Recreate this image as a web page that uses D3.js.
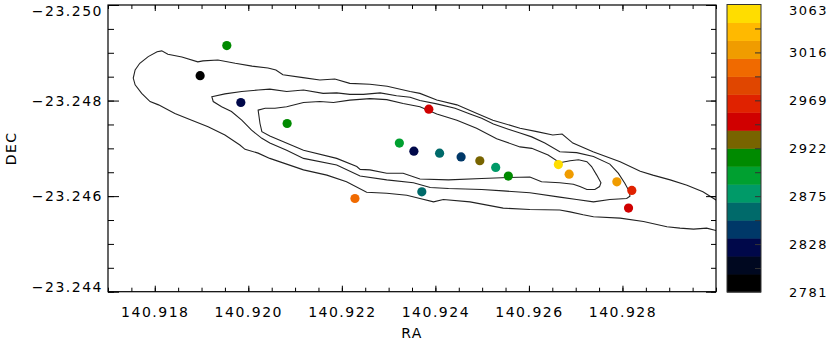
<!DOCTYPE html>
<html>
<head>
<meta charset="utf-8">
<script src="https://cdn.jsdelivr.net/npm/d3@7"></script>
<style>
    body { margin: 0; background: #fff; }
    text { font-family: "DejaVu Sans", sans-serif; fill: #000; letter-spacing: 1.5px; }
</style>
</head>
<body>
<svg id="chart" width="830" height="341"></svg>
<script>
// measured positions (RA / DEC, degrees) and velocities of the knots
const pointRA  = [140.91954, 140.91897, 140.91984, 140.92083, 140.92386, 140.92323, 140.92354,
                  140.92409, 140.92455, 140.92495, 140.92529, 140.92556, 140.92371, 140.92228,
                  140.92663, 140.92686, 140.92788, 140.92820, 140.92813];
const pointDEC = [-23.24915, -23.24852, -23.24796, -23.24752, -23.24782, -23.24711, -23.24694,
                  -23.24690, -23.24682, -23.24674, -23.24660, -23.24642, -23.24609, -23.24595,
                  -23.24666, -23.24646, -23.24630, -23.24612, -23.24575];
const pointVel = [2913, 2790, 2825, 2913, 2948, 2896, 2825, 2860, 2843, 2931, 2878, 2913, 2860, 3001,
                  3054, 3019, 3019, 2966, 2948];

// 16 discrete colour levels, bottom (low velocity) to top
const velColors = ["#000000", "#000820", "#00084a", "#003868", "#006a6a", "#009a68", "#00a030", "#008a00",
                   "#786400", "#d00000", "#e02200", "#e04600", "#f06a00", "#f09c00", "#ffb900", "#ffdd00"];
const velLabels = [2781, 2828, 2875, 2922, 2969, 3016, 3063];

const raLabels  = [140.918, 140.920, 140.922, 140.924, 140.926, 140.928];
const decLabels = [-23.250, -23.248, -23.246, -23.244];

// contour levels of the continuum image, [RA, DEC]
const contourOuter = [
    [140.93013, -23.24584], [140.93000, -23.24592], [140.92972, -23.24609], [140.92938, -23.24623],
    [140.92902, -23.24634], [140.92865, -23.24644], [140.92838, -23.24652], [140.92795, -23.24672],
    [140.92737, -23.24693], [140.92694, -23.24711], [140.92671, -23.24730], [140.92651, -23.24728],
    [140.92617, -23.24735], [140.92581, -23.24742], [140.92523, -23.24759], [140.92489, -23.24773],
    [140.92446, -23.24791], [140.92403, -23.24801], [140.92367, -23.24815], [140.92346, -23.24819],
    [140.92297, -23.24830], [140.92260, -23.24834], [140.92217, -23.24836], [140.92185, -23.24845],
    [140.92153, -23.24843], [140.92117, -23.24848], [140.92074, -23.24854], [140.92059, -23.24864],
    [140.92042, -23.24868], [140.92008, -23.24872], [140.91972, -23.24878], [140.91935, -23.24885],
    [140.91903, -23.24883], [140.91892, -23.24881], [140.91858, -23.24891], [140.91828, -23.24897],
    [140.91815, -23.24904], [140.91805, -23.24902], [140.91786, -23.24892], [140.91768, -23.24878],
    [140.91758, -23.24864], [140.91754, -23.24847], [140.91758, -23.24833], [140.91772, -23.24815],
    [140.91790, -23.24798], [140.91808, -23.24791], [140.91843, -23.24773], [140.91879, -23.24759],
    [140.91914, -23.24745], [140.91950, -23.24728], [140.91982, -23.24707], [140.91993, -23.24698],
    [140.92021, -23.24690], [140.92046, -23.24679], [140.92118, -23.24655], [140.92168, -23.24644],
    [140.92210, -23.24630], [140.92253, -23.24608], [140.92296, -23.24606], [140.92339, -23.24602],
    [140.92367, -23.24595], [140.92396, -23.24588], [140.92417, -23.24593], [140.92474, -23.24588],
    [140.92545, -23.24575], [140.92602, -23.24572], [140.92666, -23.24571], [140.92688, -23.24567],
    [140.92716, -23.24561], [140.92738, -23.24557], [140.92795, -23.24554], [140.92845, -23.24547],
    [140.92895, -23.24536], [140.92923, -23.24533], [140.92952, -23.24531], [140.92980, -23.24533],
    [140.93000, -23.24528], [140.93013, -23.24527]
];
const contourMid = [
    [140.91922, -23.24808], [140.91950, -23.24814], [140.91986, -23.24819], [140.92021, -23.24822],
    [140.92046, -23.24824], [140.92082, -23.24819], [140.92118, -23.24822], [140.92160, -23.24815],
    [140.92189, -23.24816], [140.92217, -23.24813], [140.92246, -23.24813], [140.92282, -23.24816],
    [140.92317, -23.24810], [140.92346, -23.24807], [140.92367, -23.24800], [140.92403, -23.24793],
    [140.92442, -23.24784], [140.92474, -23.24772], [140.92499, -23.24763], [140.92524, -23.24751],
    [140.92556, -23.24740], [140.92581, -23.24732], [140.92606, -23.24724], [140.92634, -23.24711],
    [140.92666, -23.24693], [140.92702, -23.24691], [140.92738, -23.24683], [140.92773, -23.24667],
    [140.92791, -23.24648], [140.92805, -23.24627], [140.92815, -23.24609], [140.92816, -23.24600],
    [140.92809, -23.24595], [140.92773, -23.24593], [140.92738, -23.24588], [140.92702, -23.24593],
    [140.92666, -23.24598], [140.92602, -23.24607], [140.92545, -23.24611], [140.92499, -23.24614],
    [140.92428, -23.24616], [140.92389, -23.24618], [140.92353, -23.24628], [140.92296, -23.24634],
    [140.92239, -23.24642], [140.92189, -23.24665], [140.92118, -23.24679], [140.92082, -23.24696],
    [140.92046, -23.24711], [140.92029, -23.24721], [140.92007, -23.24738], [140.91986, -23.24759],
    [140.91964, -23.24777], [140.91943, -23.24787], [140.91925, -23.24798]
];
const contourInner = [
    [140.92021, -23.24780], [140.92036, -23.24784], [140.92057, -23.24784], [140.92082, -23.24787],
    [140.92118, -23.24796], [140.92153, -23.24798], [140.92182, -23.24796], [140.92217, -23.24801],
    [140.92260, -23.24804], [140.92296, -23.24802], [140.92331, -23.24794], [140.92367, -23.24787],
    [140.92403, -23.24772], [140.92446, -23.24759], [140.92488, -23.24742], [140.92531, -23.24720],
    [140.92581, -23.24703], [140.92606, -23.24700], [140.92641, -23.24686], [140.92666, -23.24670],
    [140.92688, -23.24674], [140.92706, -23.24676], [140.92724, -23.24672], [140.92734, -23.24662],
    [140.92745, -23.24644], [140.92754, -23.24628], [140.92751, -23.24620], [140.92741, -23.24614],
    [140.92724, -23.24614], [140.92709, -23.24620], [140.92695, -23.24625], [140.92666, -23.24628],
    [140.92627, -23.24630], [140.92602, -23.24640], [140.92556, -23.24639], [140.92499, -23.24637],
    [140.92428, -23.24634], [140.92367, -23.24636], [140.92331, -23.24648], [140.92296, -23.24648],
    [140.92260, -23.24655], [140.92239, -23.24656], [140.92232, -23.24662], [140.92189, -23.24679],
    [140.92118, -23.24696], [140.92046, -23.24726], [140.92029, -23.24735], [140.92025, -23.24752]
];

const svg = d3.select("#chart");

const plot = {left: 108, top: 5, right: 716, bottom: 291.7};
const bar = {left: 727, right: 761, top: 4.5, bottom: 292};

let x = d3.scaleLinear().domain([140.917, 140.930]).range([plot.left, plot.right]);
let y = d3.scaleLinear().domain([-23.250, -23.244]).range([plot.top, plot.bottom]);
let colour = d3.scaleQuantize().domain([2781, 3063]).range(velColors);

svg.append("clipPath").attr("id", "clip")
    .append("rect")
    .attr("x", plot.left).attr("y", plot.top)
    .attr("width", plot.right - plot.left).attr("height", plot.bottom - plot.top);

// contours
let line = d3.line().x(d => x(d[0])).y(d => y(d[1]));
let lineClosed = d3.line().x(d => x(d[0])).y(d => y(d[1])).curve(d3.curveLinearClosed);

let cont = svg.append("g").attr("clip-path", "url(#clip)")
    .attr("fill", "none").attr("stroke", "#222").attr("stroke-width", 1.1);
cont.append("path").attr("d", line(contourOuter));
cont.append("path").attr("d", lineClosed(contourMid));
cont.append("path").attr("d", lineClosed(contourInner));

// knots
svg.append("g").selectAll("circle")
    .data(pointVel)
    .enter().append("circle")
    .attr("cx", (d, i) => x(pointRA[i]))
    .attr("cy", (d, i) => y(pointDEC[i]))
    .attr("r", 4.6)
    .attr("fill", d => colour(d));

// axes: inward ticks on all four sides
let raMinor = d3.range(0, 27).map(i => 140.917 + i * 0.0005);
let decMinor = d3.range(0, 13).map(i => -23.250 + i * 0.0005);
let fmt = d3.format(".3f");

function styleAxis(g) {
    g.select(".domain").remove();
    g.selectAll("line").attr("stroke", "#000");
    g.selectAll("text").style("font-size", "14px").attr("fill", "#000");
}

svg.append("g").attr("transform", "translate(0," + plot.bottom + ")")
    .call(d3.axisBottom(x).tickValues(raMinor).tickSize(-4).tickFormat(""))
    .call(styleAxis);
svg.append("g").attr("transform", "translate(0," + plot.bottom + ")")
    .call(d3.axisBottom(x).tickValues(raLabels).tickSize(-6).tickPadding(15).tickFormat(fmt))
    .call(styleAxis);
svg.append("g").attr("transform", "translate(0," + plot.top + ")")
    .call(d3.axisTop(x).tickValues(raMinor).tickSize(-4).tickFormat(""))
    .call(styleAxis);
svg.append("g").attr("transform", "translate(0," + plot.top + ")")
    .call(d3.axisTop(x).tickValues(raLabels).tickSize(-6).tickFormat(""))
    .call(styleAxis);

svg.append("g").attr("transform", "translate(" + plot.left + ",0)")
    .call(d3.axisLeft(y).tickValues(decMinor).tickSize(-6).tickFormat(""))
    .call(styleAxis);
let yAx = svg.append("g").attr("transform", "translate(" + plot.left + ",0)")
    .call(d3.axisLeft(y).tickValues(decLabels).tickSize(-11).tickPadding(5).tickFormat(fmt))
    .call(styleAxis);
// end labels sit inside the frame height
yAx.selectAll(".tick text")
    .attr("y", d => Math.min(Math.max(y(d), 11.5), 287) - y(d));
svg.append("g").attr("transform", "translate(" + plot.right + ",0)")
    .call(d3.axisRight(y).tickValues(decMinor).tickSize(-5).tickFormat(""))
    .call(styleAxis);
svg.append("g").attr("transform", "translate(" + plot.right + ",0)")
    .call(d3.axisRight(y).tickValues(decLabels).tickSize(-10).tickFormat(""))
    .call(styleAxis);

svg.append("rect")
    .attr("x", plot.left).attr("y", plot.top)
    .attr("width", plot.right - plot.left).attr("height", plot.bottom - plot.top)
    .attr("fill", "none").attr("stroke", "#000").attr("stroke-width", 1.2);

svg.append("text")
    .attr("x", (plot.left + plot.right) / 2).attr("y", 338)
    .attr("text-anchor", "middle").style("font-size", "14px")
    .text("RA");
svg.append("text")
    .attr("transform", "translate(16," + (plot.top + plot.bottom) / 2 + ") rotate(-90)")
    .attr("text-anchor", "middle").style("font-size", "14px")
    .text("DEC");

// colour bar
let cy = d3.scaleLinear().domain([2781, 3063]).range([bar.bottom, bar.top]);
let step = (3063 - 2781) / velColors.length;

svg.append("g").selectAll("rect")
    .data(velColors)
    .enter().append("rect")
    .attr("x", bar.left)
    .attr("y", (d, i) => cy(2781 + (i + 1) * step))
    .attr("width", bar.right - bar.left)
    .attr("height", (d, i) => cy(2781 + i * step) - cy(2781 + (i + 1) * step) + 0.5)
    .attr("fill", d => d);

svg.append("rect")
    .attr("x", bar.left).attr("y", bar.top)
    .attr("width", bar.right - bar.left).attr("height", bar.bottom - bar.top)
    .attr("fill", "none").attr("stroke", "#333").attr("stroke-width", 1);

let barTicks = d3.range(1, 12).map(k => 2781 + k * 23.5);
svg.append("g").attr("transform", "translate(" + bar.right + ",0)")
    .call(d3.axisRight(cy).tickValues(barTicks).tickSize(-6).tickFormat(""))
    .call(styleAxis)
    .selectAll("line").attr("stroke", "#333");

svg.append("g").selectAll("text")
    .data(velLabels)
    .enter().append("text")
    .attr("x", 789)
    .attr("y", d => Math.max(cy(d), 10) + 4.6)
    .style("font-size", "13px")
    .text(d => d);
</script>
</body>
</html>
